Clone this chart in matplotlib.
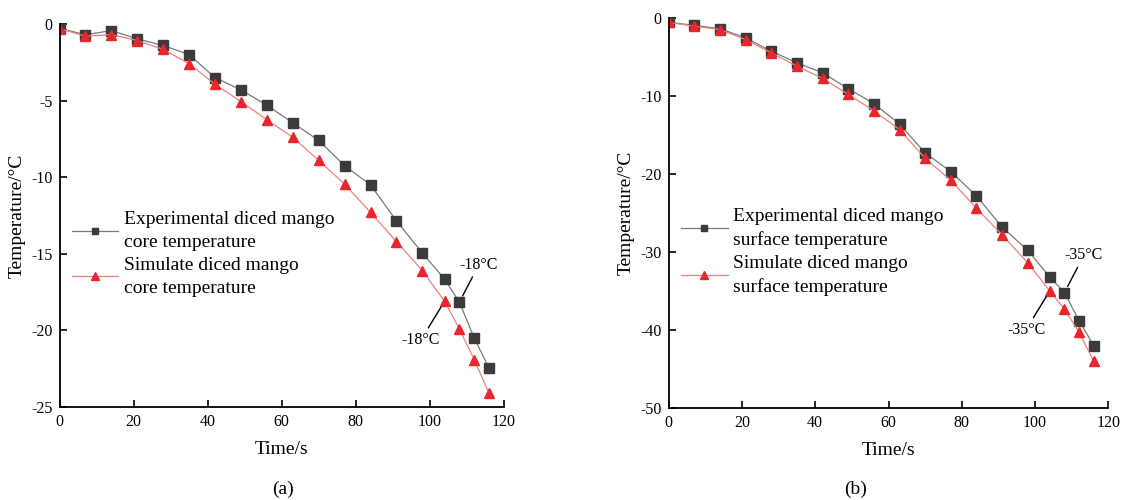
import matplotlib.pyplot as plt

plt.rcParams['font.family'] = ['Liberation Serif', 'DejaVu Serif']
plt.rcParams['axes.unicode_minus'] = False

# Dados
tempo = [0, 7, 14, 21, 28, 35, 42, 49, 56, 63, 70, 77, 84, 91, 98, 104, 108, 112, 116]

nucleoExp = [-0.28, -0.7, -0.43, -0.97, -1.4, -2.0, -3.5, -4.3, -5.3, -6.45, -7.6,
             -9.25, -10.5, -12.85, -14.95, -16.65, -18.15, -20.5, -22.45]
nucleoSim = [-0.3, -0.8, -0.69, -1.08, -1.66, -2.59, -3.94, -5.06, -6.25, -7.4, -8.9,
             -10.45, -12.3, -14.2, -16.1, -18.1, -19.9, -21.9, -24.1]

superficieExp = [-0.55, -0.94, -1.36, -2.55, -4.26, -5.74, -7.02, -9.06, -10.98, -13.6, -17.3,
                 -19.7, -22.8, -26.8, -29.8, -33.2, -35.2, -38.8, -42.0]
superficieSim = [-0.55, -1.06, -1.49, -2.77, -4.47, -6.17, -7.74, -9.79, -11.9, -14.3, -18.0,
                 -20.8, -24.4, -27.8, -31.4, -35.0, -37.3, -40.3, -44.0]

legendaA = ['Experimental diced mango\ncore temperature', 'Simulate diced mango\ncore temperature']
legendaB = ['Experimental diced mango\nsurface temperature', 'Simulate diced mango\nsurface temperature']

corExp = '#3b3b3b'
corSim = '#e8262b'


def desenharPainel(ax, exp, sim, rotulos, yMin, yPasso, textoAnot):
    ax.plot(tempo, exp, color='#7a7a7a', lw=0.9, marker='s', ms=6.5,
            mfc=corExp, mec=corExp, label=rotulos[0])
    ax.plot(tempo, sim, color='#f08080', lw=0.9, marker='^', ms=7.5,
            mfc=corSim, mec=corSim, label=rotulos[1])
    ax.set_xlim(0, 120)
    ax.set_ylim(yMin, 0)
    ax.set_xticks(range(0, 121, 20))
    ax.set_yticks(range(yMin, 1, yPasso))
    ax.spines['top'].set_visible(False)
    ax.spines['right'].set_visible(False)
    ax.spines['left'].set_linewidth(1.3)
    ax.spines['bottom'].set_linewidth(1.3)
    ax.tick_params(direction='in', length=5, width=1.2, labelsize=11.5, pad=5)
    ax.set_xlabel('Time/s', fontsize=14, labelpad=8)
    ax.set_ylabel('Temperature/°C', fontsize=14, labelpad=4)

    iExp = tempo.index(108)
    iSim = tempo.index(104)
    ax.annotate(textoAnot, xy=(tempo[iExp], exp[iExp]), xytext=(14, 21),
                textcoords='offset points', fontsize=11.5, ha='center', va='bottom',
                arrowprops=dict(arrowstyle='-', color='black', lw=1.0, shrinkA=1, shrinkB=5))
    ax.annotate(textoAnot, xy=(tempo[iSim], sim[iSim]), xytext=(-17, -22),
                textcoords='offset points', fontsize=11.5, ha='center', va='top',
                arrowprops=dict(arrowstyle='-', color='black', lw=1.0, shrinkA=1, shrinkB=5))

    leg = ax.legend(loc='center left', bbox_to_anchor=(0.01, 0.40), frameon=False,
                    fontsize=14, handlelength=2.4, labelspacing=0.3, borderaxespad=0,
                    handletextpad=0.3, markerscale=0.75)
    for texto in leg.get_texts():
        texto.set_linespacing(1.45)


fig = plt.figure(figsize=(11.45, 5), dpi=100)
axA = fig.add_axes([0.052, 0.186, 0.388, 0.766])
axB = fig.add_axes([0.584, 0.184, 0.384, 0.78])

desenharPainel(axA, nucleoExp, nucleoSim, legendaA, -25, 5, '-18°C')
desenharPainel(axB, superficieExp, superficieSim, legendaB, -50, 10, '-35°C')

fig.text(0.247, 0.012, '(a)', fontsize=14, ha='center')
fig.text(0.747, 0.012, '(b)', fontsize=14, ha='center')

fig.savefig('out.png', dpi=100)
